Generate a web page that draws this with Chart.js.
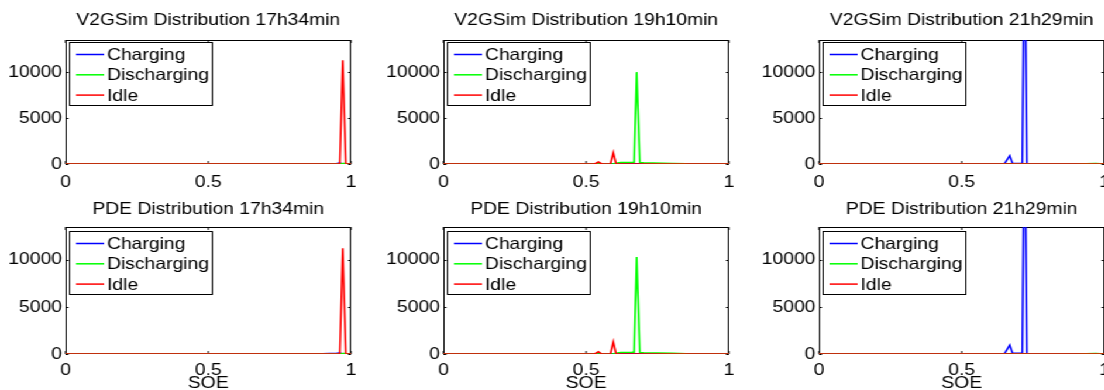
<!DOCTYPE html>
<html>
<head>
<meta charset="utf-8">
<script src="https://cdn.jsdelivr.net/npm/chart.js@4.4.1/dist/chart.umd.min.js"></script>
<style>
    html, body { margin: 0; padding: 0; background: #fff; overflow: hidden; }
    #figure {
        position: absolute; left: 0; top: 0;
        width: 944px; height: 390px;
        transform: scaleX(1.17);
        transform-origin: 0 0;
    }
    #figure canvas { position: absolute; }
</style>
</head>
<body>
<div id="figure"></div>
<script>
// 축 눈금
const xTicks = [0, 0.5, 1];
const yTicks = [0, 5000, 10000];
const yMax = 13500;
const seriesNames = ['Charging', 'Discharging', 'Idle'];

// V2GSim 17h34min
const soeV2g1734 = [0, 0.5, 0.9, 0.95, 0.961, 0.971, 0.982, 0.99, 1];
const chargingV2g1734 = [0, 5, 20, 60, 100, 0, 0, 0, 0];
const dischargingV2g1734 = [0, 0, 0, 0, 0, 50, 40, 0, 0];
const idleV2g1734 = [0, 0, 0, 0, 0, 11300, 0, 0, 0];

// V2GSim 19h10min
const soeV2g1910 = [0, 0.53, 0.543, 0.555, 0.585, 0.595, 0.605, 0.62, 0.66, 0.668, 0.677, 0.688, 0.7, 0.8, 0.85, 1];
const chargingV2g1910 = [0, 0, 0, 0, 0, 0, 0, 0, 0, 0, 0, 0, 0, 0, 0, 0];
const dischargingV2g1910 = [0, 0, 100, 0, 0, 0, 80, 150, 170, 180, 10000, 150, 120, 60, 20, 0];
const idleV2g1910 = [0, 0, 220, 0, 0, 1250, 0, 0, 0, 0, 0, 0, 0, 0, 0, 0];

// V2GSim 21h29min
const soeV2g2129 = [0, 0.5, 0.65, 0.668, 0.678, 0.712, 0.72, 0.728, 0.9, 0.97, 1];
const chargingV2g2129 = [0, 10, 40, 900, 60, 60, 28000, 50, 30, 0, 0];
const dischargingV2g2129 = [0, 0, 0, 0, 0, 0, 0, 0, 0, 40, 0];
const idleV2g2129 = [0, 0, 0, 0, 0, 0, 0, 0, 0, 0, 0];

// PDE 17h34min
const soePde1734 = [0, 0.5, 0.9, 0.95, 0.961, 0.971, 0.982, 0.99, 1];
const chargingPde1734 = [0, 5, 25, 70, 110, 0, 0, 0, 0];
const dischargingPde1734 = [0, 0, 0, 0, 0, 50, 40, 0, 0];
const idlePde1734 = [0, 0, 0, 0, 0, 11250, 0, 0, 0];

// PDE 19h10min
const soePde1910 = [0, 0.53, 0.543, 0.555, 0.585, 0.595, 0.605, 0.62, 0.66, 0.668, 0.677, 0.688, 0.7, 0.8, 0.85, 1];
const chargingPde1910 = [0, 0, 0, 0, 0, 0, 0, 0, 0, 0, 0, 0, 0, 0, 0, 0];
const dischargingPde1910 = [0, 0, 120, 0, 0, 0, 90, 160, 180, 190, 10300, 160, 130, 80, 30, 0];
const idlePde1910 = [0, 0, 250, 0, 0, 1300, 0, 0, 0, 0, 0, 0, 0, 0, 0, 0];

// PDE 21h29min
const soePde2129 = [0, 0.5, 0.65, 0.668, 0.678, 0.712, 0.72, 0.728, 0.9, 0.97, 1];
const chargingPde2129 = [0, 10, 50, 950, 70, 70, 28000, 60, 30, 0, 0];
const dischargingPde2129 = [0, 0, 0, 0, 0, 0, 0, 0, 0, 40, 0];
const idlePde2129 = [0, 0, 0, 0, 0, 0, 0, 0, 0, 0, 0];

const panels = [
    { title: 'V2GSim Distribution 17h34min', soe: soeV2g1734, counts: [chargingV2g1734, dischargingV2g1734, idleV2g1734] },
    { title: 'V2GSim Distribution 19h10min', soe: soeV2g1910, counts: [chargingV2g1910, dischargingV2g1910, idleV2g1910] },
    { title: 'V2GSim Distribution 21h29min', soe: soeV2g2129, counts: [chargingV2g2129, dischargingV2g2129, idleV2g2129] },
    { title: 'PDE Distribution 17h34min', soe: soePde1734, counts: [chargingPde1734, dischargingPde1734, idlePde1734] },
    { title: 'PDE Distribution 19h10min', soe: soePde1910, counts: [chargingPde1910, dischargingPde1910, idlePde1910] },
    { title: 'PDE Distribution 21h29min', soe: soePde2129, counts: [chargingPde2129, dischargingPde2129, idlePde2129] }
];

// 레이아웃 (가로는 scaleX 이전 좌표)
const colors = ['#0000ff', '#00ff00', '#ff0000'];
const FONT = '"Liberation Sans", Arial, Helvetica, sans-serif';
const FONT_SIZE = 16.5;
const canvasLefts = [0.4, 322.6, 644];
const canvasW = 315, canvasH = 195;
const axisW = 56;
const rows = [
    { top: 0,   titlePad: { top: 10, bottom: 10 }, xAxisH: 31, tickPad: 10, legendGap: 2, xTitle: false },
    { top: 195, titlePad: { top: 4,  bottom: 8 },  xAxisH: 36, tickPad: 8,  legendGap: 4, xTitle: true }
];

Chart.defaults.font.family = FONT;
Chart.defaults.font.size = FONT_SIZE;
Chart.defaults.color = '#000';

// 박스 테두리 + 안쪽 눈금
const boxAxes = {
    id: 'boxAxes',
    beforeDatasetsDraw(chart) {
        const { ctx, chartArea: a, scales: { x, y } } = chart;
        ctx.save();
        ctx.strokeStyle = '#000';
        ctx.lineWidth = 1;
        ctx.strokeRect(a.left + 0.5, a.top + 0.5, a.width - 1, a.height - 1);
        ctx.beginPath();
        xTicks.forEach(v => {
            const px = x.getPixelForValue(v);
            ctx.moveTo(px, a.bottom); ctx.lineTo(px, a.bottom - 3);
            ctx.moveTo(px, a.top); ctx.lineTo(px, a.top + 3);
        });
        yTicks.forEach(v => {
            const py = Math.round(y.getPixelForValue(v)) + 0.5;
            ctx.moveTo(a.left, py); ctx.lineTo(a.left + 2.5, py);
            ctx.moveTo(a.right, py); ctx.lineTo(a.right - 2.5, py);
        });
        ctx.stroke();
        ctx.restore();
    }
};

// 테두리 있는 범례
function boxLegend(gap) {
    return {
        id: 'boxLegend',
        afterDatasetsDraw(chart) {
            const { ctx, chartArea: a } = chart;
            const left = Math.round(a.left + 3.4), top = Math.round(a.top + gap);
            const w = 122, h = 63;
            ctx.save();
            ctx.fillStyle = '#fff';
            ctx.fillRect(left, top, w, h);
            ctx.strokeStyle = '#000';
            ctx.lineWidth = 1;
            ctx.strokeRect(left + 0.5, top + 0.5, w, h);
            ctx.font = `${FONT_SIZE}px ${FONT}`;
            ctx.textBaseline = 'middle';
            chart.data.datasets.forEach((ds, i) => {
                const yy = top + 12.5 + i * 20.3;
                ctx.strokeStyle = ds.borderColor;
                ctx.lineWidth = 1.5;
                ctx.beginPath();
                ctx.moveTo(left + 6, yy);
                ctx.lineTo(left + 30, yy);
                ctx.stroke();
                ctx.fillStyle = '#000';
                ctx.fillText(ds.label, left + 32.5, yy + 1);
            });
            ctx.restore();
        }
    };
}

function createPanel(panel, idx) {
    const row = rows[Math.floor(idx / 3)];
    const canvas = document.createElement('canvas');
    canvas.width = canvasW;
    canvas.height = canvasH;
    canvas.style.left = canvasLefts[idx % 3] + 'px';
    canvas.style.top = row.top + 'px';
    document.getElementById('figure').appendChild(canvas);

    return new Chart(canvas.getContext('2d'), {
        type: 'line',
        data: {
            datasets: panel.counts.map((counts, i) => ({
                label: seriesNames[i],
                data: panel.soe.map((s, j) => ({ x: s, y: counts[j] })),
                borderColor: colors[i],
                borderWidth: 1.6,
                pointRadius: 0,
                tension: 0,
                // Idle 이 맨 위
                order: 3 - i
            }))
        },
        options: {
            responsive: false,
            animation: false,
            layout: { padding: { right: 15 } },
            plugins: {
                legend: { display: false },
                tooltip: { enabled: false },
                title: {
                    display: true,
                    text: panel.title,
                    fullSize: false,
                    color: '#000',
                    font: { size: FONT_SIZE, weight: 'normal', lineHeight: '20px' },
                    padding: row.titlePad
                }
            },
            scales: {
                x: {
                    type: 'linear',
                    min: 0,
                    max: 1,
                    grid: { display: false, drawTicks: false },
                    border: { display: false },
                    afterBuildTicks: s => { s.ticks = xTicks.map(v => ({ value: v })); },
                    afterFit: s => { s.height = row.xAxisH; },
                    ticks: {
                        padding: row.tickPad,
                        maxRotation: 0,
                        font: { lineHeight: 1 },
                        callback: v => String(v)
                    },
                    title: {
                        display: row.xTitle,
                        text: 'SOE',
                        font: { size: FONT_SIZE, lineHeight: 1 },
                        padding: { top: 0, bottom: -1.5 }
                    }
                },
                y: {
                    min: 0,
                    max: yMax,
                    grid: { display: false, drawTicks: false },
                    border: { display: false },
                    afterBuildTicks: s => { s.ticks = yTicks.map(v => ({ value: v })); },
                    afterFit: s => { s.width = axisW; },
                    ticks: {
                        padding: 3,
                        callback: v => String(v)
                    }
                }
            }
        },
        plugins: [boxAxes, boxLegend(row.legendGap)]
    });
}

document.addEventListener('DOMContentLoaded', () => {
    panels.forEach((p, i) => createPanel(p, i));
});
</script>
</body>
</html>
